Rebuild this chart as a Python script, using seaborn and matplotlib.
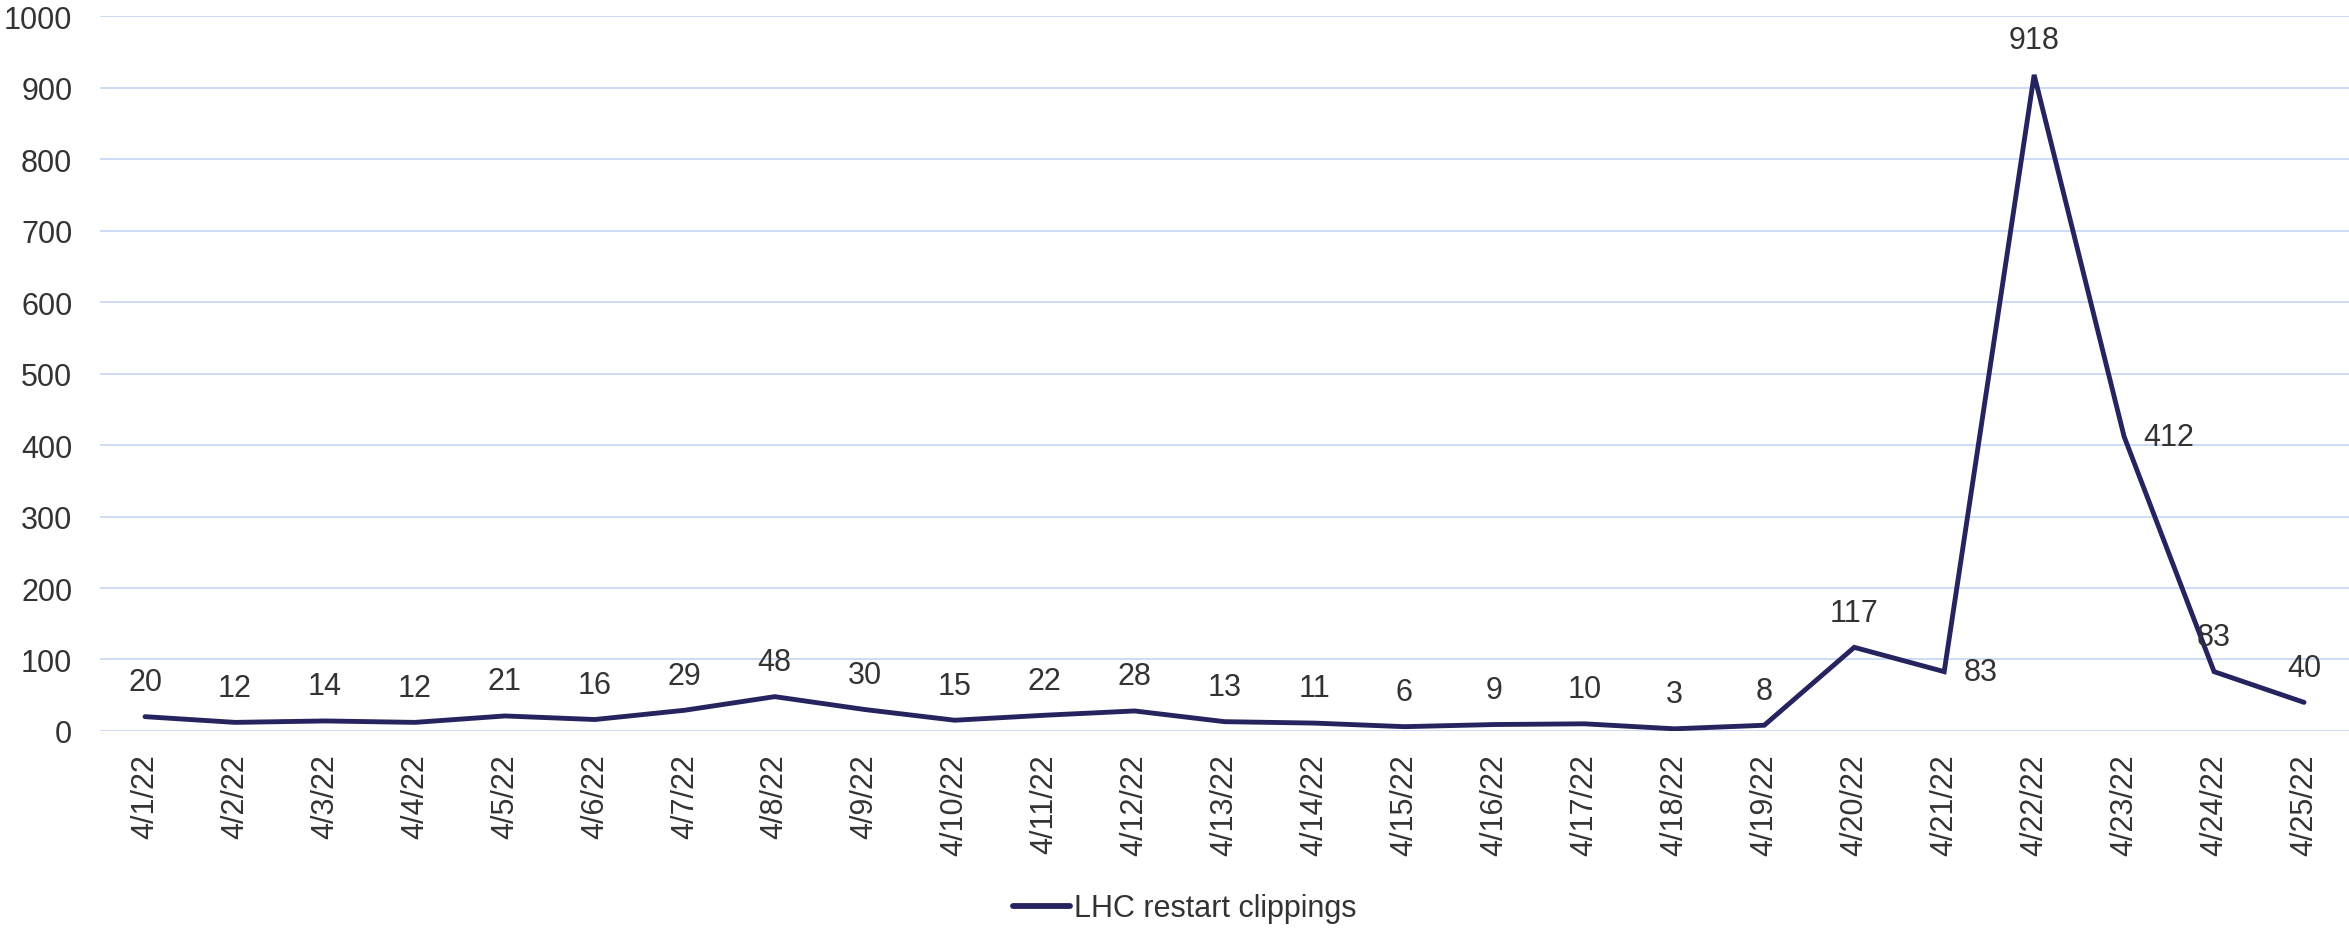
import matplotlib
matplotlib.use("Agg")
import matplotlib.pyplot as plt
import seaborn as sns
import pandas as pd

dates = ["4/1/22", "4/2/22", "4/3/22", "4/4/22", "4/5/22", "4/6/22", "4/7/22",
         "4/8/22", "4/9/22", "4/10/22", "4/11/22", "4/12/22", "4/13/22",
         "4/14/22", "4/15/22", "4/16/22", "4/17/22", "4/18/22", "4/19/22",
         "4/20/22", "4/21/22", "4/22/22", "4/23/22", "4/24/22", "4/25/22"]
clippings = [20, 12, 14, 12, 21, 16, 29, 48, 30, 15, 22, 28, 13, 11, 6, 9, 10,
             3, 8, 117, 83, 918, 412, 83, 40]
series_name = "LHC restart clippings"
y_ticks = [0, 100, 200, 300, 400, 500, 600, 700, 800, 900, 1000]

# labels drawn to the right of their point instead of above it
right_labels = {"4/21/22", "4/23/22"}

sns.set_theme(style="white")
plt.rcParams["font.family"] = ["Liberation Sans", "DejaVu Sans"]

line_color = "#25245f"
text_color = "#333333"
grid_color = "#c9d9f7"
fs = 22

df = pd.DataFrame({"date": dates, "count": clippings, "series": series_name})

fig = plt.figure(figsize=(23.49, 9.29), dpi=100)
ax = fig.add_axes([0.0426, 0.2121, 0.9574, 0.7693])

sns.lineplot(data=df, x="date", y="count", hue="series", palette=[line_color],
             sort=False, linewidth=3.5, ax=ax, legend=True)
for ln in ax.lines:
    ln.set_solid_capstyle("round")
    ln.set_solid_joinstyle("miter")

ax.set_xlim(-0.5, len(dates) - 0.5)
ax.set_ylim(0, 1000)
ax.set_yticks(y_ticks)
ax.set_yticklabels([str(v) for v in y_ticks])
ax.yaxis.grid(True, color=grid_color, linewidth=1.3)
ax.xaxis.grid(False)
ax.set_axisbelow(True)
for sp in ax.spines.values():
    sp.set_visible(False)

ax.set_xlabel("")
ax.set_ylabel("")
ax.tick_params(axis="y", length=0, pad=20, labelsize=fs, labelcolor=text_color)
ax.tick_params(axis="x", length=0, pad=16, labelsize=fs, labelcolor=text_color,
               labelrotation=90)

# value labels
for i, (d, v) in enumerate(zip(dates, clippings)):
    if d in right_labels:
        ax.annotate(str(v), (i, v), xytext=(14, 0), textcoords="offset points",
                    ha="left", va="center", fontsize=fs, color=text_color)
    else:
        ax.annotate(str(v), (i, v), xytext=(0, 25), textcoords="offset points",
                    ha="center", va="center", fontsize=fs, color=text_color)

handles, labels = ax.get_legend_handles_labels()
ax.get_legend().remove()
leg = fig.legend(handles, labels, loc="center", bbox_to_anchor=(0.5045, 0.021),
                 frameon=False, fontsize=fs, labelcolor=text_color,
                 handlelength=1.85, handletextpad=0.15, borderpad=0)
for h in leg.get_lines():
    h.set_linewidth(4.2)
    h.set_solid_capstyle("round")

fig.savefig("out.png", dpi=100, facecolor="white")
